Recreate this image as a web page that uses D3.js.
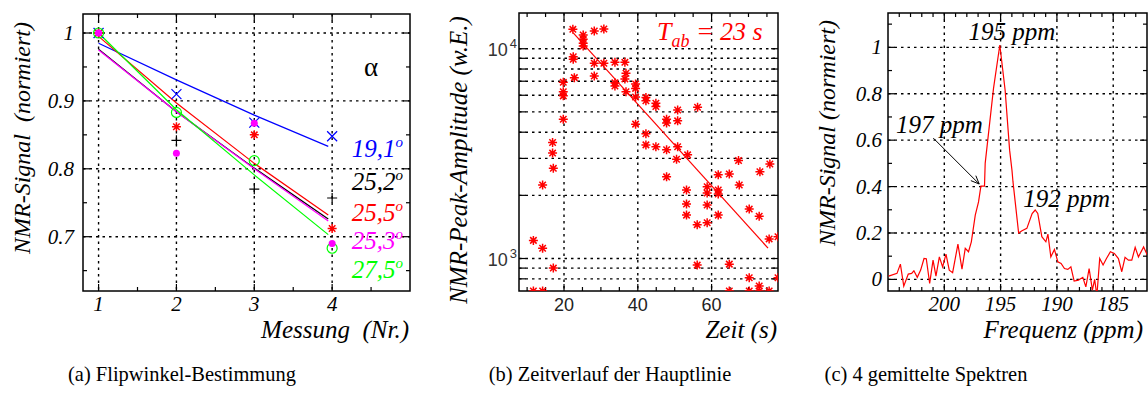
<!DOCTYPE html>
<html>
<head>
<meta charset="utf-8">
<script src="https://cdn.jsdelivr.net/npm/d3@7"></script>
<style>
body { margin: 0; background: #fff; }
svg { display: block; }
svg text { font-family: "Liberation Serif", "Times New Roman", "DejaVu Serif", serif; }
svg text.sans { font-family: "Liberation Sans", Arial, sans-serif; }
</style>
</head>
<body>
<svg id="fig" width="1148" height="414"></svg>
<script>
// ---------- (a) Flipwinkel-Bestimmung ----------
const messung = [1, 2, 3, 4];
const flipAngles = ["19,1", "25,2", "25,5", "25,3", "27,5"];
const flipValues = [
    [1.000, 0.910, 0.868, 0.848],
    [1.000, 0.842, 0.770, 0.757],
    [1.000, 0.862, 0.850, 0.712],
    [1.000, 0.823, 0.867, 0.690],
    [1.000, 0.883, 0.812, 0.683]
];
const fitX = [1, 2, 3, 3.95];
const flipFits = [
    [0.985, 0.931, 0.879, 0.833],
    [0.976, 0.884, 0.801, 0.726],
    [0.995, 0.897, 0.808, 0.732],
    [0.975, 0.884, 0.800, 0.723],
    [1.000, 0.887, 0.791, 0.703]
];
const aTicksX = [1, 2, 3, 4];
const aMinorX = [1.5, 2.5, 3.5, 4.5];
const aTicksY = [0.7, 0.8, 0.9, 1];
const aMinorY = [0.65, 0.75, 0.85, 0.95];

// ---------- (b) Zeitverlauf der Hauptlinie ----------
const zeit = [22.4, 25.2, 25.2, 25.2, 25.2, 28.2, 30.8, 22.5, 22.5, 28.2, 30.8, 33.8, 36.5, 22.8, 28.2,
    19.8, 33.8, 33.8, 36.8, 36.5, 19.8, 19.8, 36.8, 39.4, 39.4, 39.4, 42.2, 42.2, 19.8, 39.4,
    42.2, 16.9, 42.2, 44.9, 44.9, 50.8, 56.2, 47.8, 47.8, 50.8, 44.9, 47.8, 50.8, 50.5, 53.5,
    67.3, 75.8, 16.9, 17.1, 14.2, 11.7, 14.2, 17.1, 11.7, 14.2, 47.8, 53.2, 53.2, 53.2, 56.1,
    58.8, 58.8, 58.8, 58.8, 61.8, 61.8, 61.8, 61.8, 64.8, 67.5, 70.2, 72.9, 73.1, 75.6, 78.0,
    56.1, 64.8, 70.2, 72.9, 64.8, 70.2, 72.9, 75.6, 78.0];
const amplitude = [12370, 11620, 11090, 10610, 10300, 12140, 12410, 9160, 8910, 8520, 8520, 8610, 8610, 7280, 7410,
    6920, 6890, 6640, 7640, 7180, 6240, 5960, 6240, 6790, 6470, 5880, 5850, 5650, 4610, 4370,
    3930, 3570, 3480, 5500, 5300, 5100, 5260, 4610, 4420, 4530, 3410, 3300, 3410, 2970, 3120,
    2930, 2820, 3180, 2690, 2240, 1220, 1120, 900, 700, 700, 2450, 2120, 1820, 1610, 1450,
    2200, 2050, 1800, 1480, 2120, 2030, 2510, 1610, 2530, 2240, 1720, 1590, 2590, 1240, 1270,
    930, 940, 810, 740, 700, 700, 700, 700, 810];
const fitZeit = [22.5, 75.3];
const fitAmplitude = [11900, 1120];
const bTicksX = [20, 40, 60];
const bMinorX = [10, 15, 25, 30, 35, 45, 50, 55, 65, 70, 75];
const bGridY = [800, 900, 1000, 2000, 3000, 4000, 5000, 6000, 7000, 8000, 9000, 10000];
const bLabelY = [1000, 10000];

// ---------- (c) 4 gemittelte Spektren ----------
const ppm = [204.94, 204.2, 203.9, 203.6, 203.2, 202.9, 202.7, 202.4, 202.1, 201.8, 201.6, 201.3, 201.0,
    200.74, 200.44, 200.15, 199.85, 199.56, 199.26, 198.79, 198.43, 198.14, 197.85, 197.6, 197.25, 196.96,
    196.75, 196.43, 196.37, 195.63, 195.07, 194.6, 194.2, 193.99, 193.9, 193.4, 193.1, 192.67, 192.2,
    191.93, 191.7, 191.34, 190.98, 190.8, 190.54, 190.22, 189.92, 189.63, 189.33, 189.03, 188.76, 188.47,
    188.09, 187.7, 187.43, 187.14, 186.85, 186.65, 186.45, 186.2, 185.9, 185.6, 185.25, 184.9, 184.54,
    184.24, 183.95, 183.65, 183.35, 183.05, 182.76, 182.3, 181.9];
const signal = [0.014, 0.026, 0.066, -0.029, 0.023, 0.026, 0.037, 0.009, 0.04, 0.09, 0.089, -0.017, 0.083,
    0.014, 0.097, 0.054, 0.109, 0.04, 0.029, 0.152, 0.044, 0.134, 0.119, 0.162, 0.277, 0.334,
    0.402, 0.402, 0.5, 0.823, 1.01, 0.816, 0.557, 0.47, 0.42, 0.2, 0.21, 0.22, 0.284,
    0.299, 0.284, 0.184, 0.162, 0.195, 0.097, 0.129, 0.076, 0.069, 0.047, 0.043, 0.054, -0.007,
    -0.003, 0.009, -0.032, 0.047, -0.046, 0.0, -0.07, 0.09, 0.062, 0.09, 0.119, 0.112, 0.09,
    0.033, 0.095, 0.083, 0.083, 0.138, 0.097, 0.14, 0.097];
const cTicksX = [200, 195, 190, 185];
const cMinorX = d3.range(204, 182, -1).filter(d => d % 5 !== 0);
const cTicksY = [0, 0.2, 0.4, 0.6, 0.8, 1];
const cMinorY = [0.1, 0.3, 0.5, 0.7, 0.9, 1.1];
const cLabels = ["195 ppm", "197 ppm", "192 ppm"];

const captions = ["(a) Flipwinkel-Bestimmung", "(b) Zeitverlauf der Hauptlinie", "(c) 4 gemittelte Spektren"];

// ---------- setup ----------
const flipColors = ["#0000ff", "#000000", "#ff0000", "#ff00ff", "#00ff00"];
const flipMarkers = ["x", "plus", "star", "dot", "circle"];

const svg = d3.select("#fig");

// dotted grid, inward ticks on all sides and the frame
function drawFrame(g, x, y, o) {
    const [l, r] = x.range();
    const [b, t] = y.range();

    g.selectAll(null).data(o.xGrid).join("line")
        .attr("x1", d => x(d)).attr("x2", d => x(d))
        .attr("y1", t).attr("y2", b)
        .attr("stroke", "#000").attr("stroke-width", 1.4)
        .attr("stroke-dasharray", "2.5,4");

    g.selectAll(null).data(o.yGrid).join("line")
        .attr("x1", l).attr("x2", r)
        .attr("y1", d => y(d)).attr("y2", d => y(d))
        .attr("stroke", "#000").attr("stroke-width", 1.4)
        .attr("stroke-dasharray", "2.5,4");

    const tickLines = (vals, len, horiz) => {
        vals.forEach(v => {
            const segs = horiz
                ? [[x(v), b, x(v), b - len], [x(v), t, x(v), t + len]]
                : [[l, y(v), l + len, y(v)], [r, y(v), r - len, y(v)]];
            segs.forEach(s => g.append("line")
                .attr("x1", s[0]).attr("y1", s[1]).attr("x2", s[2]).attr("y2", s[3])
                .attr("stroke", "#000").attr("stroke-width", 1.2));
        });
    };
    tickLines(o.xMajor, 7, true);
    tickLines(o.xMinor, 4, true);
    tickLines(o.yMajor, 7, false);
    tickLines(o.yMinor, 4, false);

    g.append("rect")
        .attr("x", l).attr("y", t)
        .attr("width", r - l).attr("height", b - t)
        .attr("fill", "none").attr("stroke", "#000").attr("stroke-width", 1.5);
}

function marker(g, type, cx, cy, color) {
    const s = 5;
    if (type === "x") {
        g.append("path").attr("d", `M${cx - s},${cy - s}L${cx + s},${cy + s}M${cx - s},${cy + s}L${cx + s},${cy - s}`)
            .attr("stroke", color).attr("stroke-width", 1.2);
    } else if (type === "plus") {
        g.append("path").attr("d", `M${cx - s},${cy}H${cx + s}M${cx},${cy - s}V${cy + s}`)
            .attr("stroke", color).attr("stroke-width", 1.2);
    } else if (type === "star") {
        starPath(g, cx, cy, 4.5, color);
    } else if (type === "dot") {
        g.append("circle").attr("cx", cx).attr("cy", cy).attr("r", 3.5).attr("fill", color);
    } else {
        g.append("circle").attr("cx", cx).attr("cy", cy).attr("r", 5)
            .attr("fill", "none").attr("stroke", color).attr("stroke-width", 1.2);
    }
}

function starPath(g, cx, cy, r, color) {
    const k = r * 0.72;
    g.append("path")
        .attr("d", `M${cx - r},${cy}H${cx + r}M${cx},${cy - r}V${cy + r}` +
            `M${cx - k},${cy - k}L${cx + k},${cy + k}M${cx - k},${cy + k}L${cx + k},${cy - k}`)
        .attr("stroke", color).attr("stroke-width", 1.5);
}

// ---------- panel a ----------
const xA = d3.scaleLinear().domain([0.8, 5]).range([83, 410]);
const yA = d3.scaleLinear().domain([0.62, 1.028]).range([291, 14]);
const gA = svg.append("g");

drawFrame(gA, xA, yA, {
    xGrid: aTicksX, yGrid: aTicksY,
    xMajor: aTicksX, xMinor: aMinorX, yMajor: aTicksY, yMinor: aMinorY
});

const lineA = d3.line().x((d, i) => xA(fitX[i])).y(d => yA(d));
flipFits.forEach((f, i) => {
    gA.append("path").attr("d", lineA(f))
        .attr("fill", "none").attr("stroke", flipColors[i]).attr("stroke-width", 1.2);
});
[0, 1, 2, 4, 3].forEach(i => {
    flipValues[i].forEach((v, j) => marker(gA, flipMarkers[i], xA(messung[j]), yA(v), flipColors[i]));
});

gA.selectAll(null).data(aTicksX).join("text")
    .attr("x", d => xA(d)).attr("y", 311)
    .attr("text-anchor", "middle")
    .attr("font-style", "italic").attr("font-size", 21)
    .text(d => d);
gA.selectAll(null).data(aTicksY).join("text")
    .attr("x", 74).attr("y", d => yA(d) + 7)
    .attr("text-anchor", "end")
    .attr("font-style", "italic").attr("font-size", 21)
    .text(d => d === 1 ? "1" : d.toFixed(1));

gA.append("text")
    .attr("x", 371).attr("y", 76).attr("text-anchor", "middle")
    .attr("font-size", 27)
    .text("α");

const labelBase = [157, 190, 221, 249, 278];
flipAngles.forEach((a, i) => {
    const t = gA.append("text")
        .attr("x", 403).attr("y", labelBase[i]).attr("text-anchor", "end")
        .attr("font-style", "italic").attr("font-size", 25)
        .attr("fill", flipColors[i]);
    t.append("tspan").text(a);
    t.append("tspan").attr("font-size", 15).attr("dy", -10).text("o");
});

gA.append("text")
    .attr("transform", "translate(30,138) rotate(-90)")
    .attr("text-anchor", "middle")
    .attr("font-style", "italic").attr("font-size", 24)
    .attr("xml:space", "preserve")
    .text("NMR-Signal  (normiert)");
gA.append("text")
    .attr("x", 409).attr("y", 338).attr("text-anchor", "end")
    .attr("font-style", "italic").attr("font-size", 25)
    .attr("xml:space", "preserve")
    .text("Messung  (Nr.)");

// ---------- panel b ----------
const xB = d3.scaleLinear().domain([7.8, 78]).range([519, 778]);
const yB = d3.scaleLog().domain([700, 14800]).range([291, 13]);
const gB = svg.append("g");

drawFrame(gB, xB, yB, {
    xGrid: bTicksX, yGrid: bGridY,
    xMajor: bTicksX, xMinor: bMinorX, yMajor: bGridY, yMinor: []
});

svg.append("clipPath").attr("id", "clipB").append("rect")
    .attr("x", 519).attr("y", 13).attr("width", 259).attr("height", 278);
const pB = gB.append("g").attr("clip-path", "url(#clipB)");

pB.append("path")
    .attr("d", d3.line().x(d => xB(d[0])).y(d => yB(d[1]))(fitZeit.map((t, i) => [t, fitAmplitude[i]])))
    .attr("stroke", "#ff0000").attr("stroke-width", 1.2).attr("fill", "none");
zeit.forEach((t, i) => starPath(pB, xB(t), yB(amplitude[i]), 4.5, "#ff0000"));

gB.selectAll(null).data(bTicksX).join("text")
    .attr("class", "sans")
    .attr("x", d => xB(d)).attr("y", 311)
    .attr("text-anchor", "middle")
    .attr("font-size", 18).attr("fill", "#222")
    .text(d => d);
bLabelY.forEach(v => {
    const t = gB.append("text")
        .attr("class", "sans")
        .attr("x", 517).attr("y", yB(v) + 7).attr("text-anchor", "end")
        .attr("font-size", 18).attr("fill", "#333");
    t.append("tspan").text("10");
    t.append("tspan").attr("font-size", 13).attr("dy", -8).attr("dx", 2).text(Math.round(Math.log10(v)));
});

const tab = gB.append("text")
    .attr("x", 657).attr("y", 40)
    .attr("font-style", "italic").attr("font-size", 26)
    .attr("fill", "#ff0000");
tab.append("tspan").text("T");
tab.append("tspan").attr("font-size", 18).attr("dy", 7).text("ab");
tab.append("tspan").attr("dy", -7).text(" = 23 s");

gB.append("text")
    .attr("transform", "translate(467,160) rotate(-90)")
    .attr("text-anchor", "middle")
    .attr("font-style", "italic").attr("font-size", 25)
    .text("NMR-Peak-Amplitude (w.E.)");
gB.append("text")
    .attr("x", 777).attr("y", 338).attr("text-anchor", "end")
    .attr("font-style", "italic").attr("font-size", 25)
    .text("Zeit (s)");

// ---------- panel c ----------
const xC = d3.scaleLinear().domain([205, 182]).range([888, 1147]);
const yC = d3.scaleLinear().domain([-0.05, 1.148]).range([291, 13]);
const gC = svg.append("g");

drawFrame(gC, xC, yC, {
    xGrid: cTicksX, yGrid: cTicksY,
    xMajor: cTicksX, xMinor: cMinorX, yMajor: cTicksY, yMinor: cMinorY
});

svg.append("clipPath").attr("id", "clipC").append("rect")
    .attr("x", 888).attr("y", 13).attr("width", 259).attr("height", 278);
gC.append("g").attr("clip-path", "url(#clipC)")
    .append("path")
    .attr("d", d3.line().x((d, i) => xC(ppm[i])).y(d => yC(d))(signal))
    .attr("stroke", "#ff0000").attr("stroke-width", 1.2).attr("fill", "none");

gC.selectAll(null).data(cTicksX).join("text")
    .attr("x", d => xC(d)).attr("y", 311)
    .attr("text-anchor", "middle")
    .attr("font-style", "italic").attr("font-size", 21)
    .text(d => d);
gC.selectAll(null).data(cTicksY).join("text")
    .attr("x", 882).attr("y", d => yC(d) + 7)
    .attr("text-anchor", "end")
    .attr("font-style", "italic").attr("font-size", 21)
    .text(d => d === 0 || d === 1 ? String(d) : d.toFixed(1));

const cLabelPos = [[194.0, 1.03, "middle"], [204.3, 0.63, "start"], [193.0, 0.31, "start"]];
cLabels.forEach((s, i) => {
    gC.append("text")
        .attr("x", xC(cLabelPos[i][0])).attr("y", yC(cLabelPos[i][1]))
        .attr("text-anchor", cLabelPos[i][2])
        .attr("font-style", "italic").attr("font-size", 25)
        .text(s);
});

// arrow to the 197 ppm shoulder
const ax0 = xC(200.98), ay0 = yC(0.609), ax1 = xC(196.9), ay1 = yC(0.411);
const ang = Math.atan2(ay1 - ay0, ax1 - ax0);
const ah = 9, aw = 0.4;
gC.append("path")
    .attr("d", `M${ax0},${ay0}L${ax1},${ay1}` +
        `M${ax1 - ah * Math.cos(ang - aw)},${ay1 - ah * Math.sin(ang - aw)}L${ax1},${ay1}` +
        `L${ax1 - ah * Math.cos(ang + aw)},${ay1 - ah * Math.sin(ang + aw)}`)
    .attr("stroke", "#000").attr("stroke-width", 1).attr("fill", "none");

gC.append("text")
    .attr("transform", "translate(835,133) rotate(-90)")
    .attr("text-anchor", "middle")
    .attr("font-style", "italic").attr("font-size", 24)
    .text("NMR-Signal (normiert)");
gC.append("text")
    .attr("x", 1143).attr("y", 338).attr("text-anchor", "end")
    .attr("font-style", "italic").attr("font-size", 25)
    .text("Frequenz (ppm)");

// ---------- captions (slightly condensed serif) ----------
const captionCenter = [182, 610, 926];
captions.forEach((c, i) => {
    const t = svg.append("text")
        .attr("x", captionCenter[i]).attr("y", 381)
        .attr("text-anchor", "middle")
        .attr("font-size", 22)
        .text(c);
    const w = t.node().getComputedTextLength();
    t.attr("textLength", w * 0.93).attr("lengthAdjust", "spacingAndGlyphs");
});
</script>
</body>
</html>
